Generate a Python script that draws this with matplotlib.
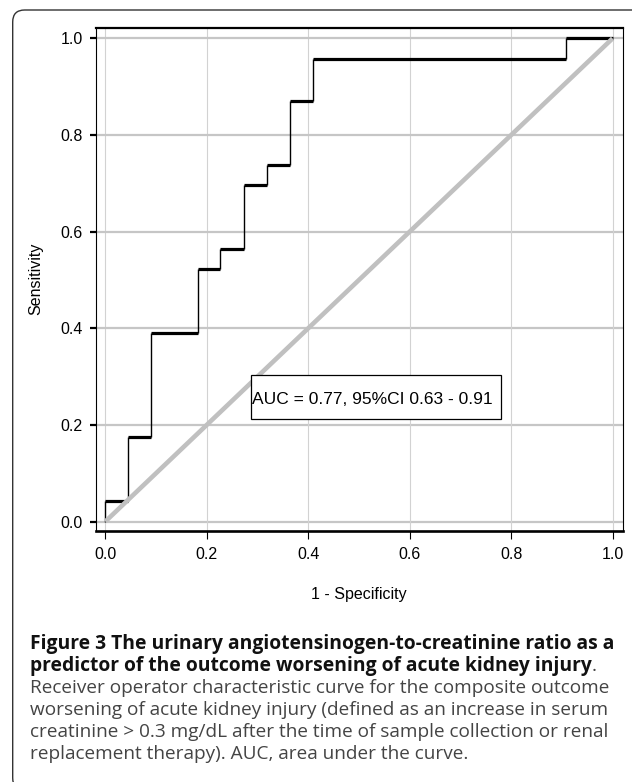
import matplotlib
matplotlib.use("Agg")
import matplotlib.pyplot as plt
from matplotlib.patches import Rectangle, FancyBboxPatch
from matplotlib.transforms import IdentityTransform

# puntos de la curva ROC (escalones)
fpr = [0, 0.045, 0.091, 0.182, 0.227, 0.273, 0.318, 0.364, 0.409, 0.909, 1.0]
tpr = [0.043, 0.174, 0.391, 0.522, 0.565, 0.696, 0.739, 0.870, 0.957, 1.0]

ticks = [0.0, 0.2, 0.4, 0.6, 0.8, 1.0]
tick_labels = ["0.0", "0.2", "0.4", "0.6", "0.8", "1.0"]

auc_text = "AUC = 0.77, 95%CI 0.63 - 0.91"

caption_bold = ["Figure 3 The urinary angiotensinogen-to-creatinine ratio as a",
                "predictor of the outcome worsening of acute kidney injury"]
caption_rest = ["Receiver operator characteristic curve for the composite outcome",
                "worsening of acute kidney injury (defined as an increase in serum",
                "creatinine > 0.3 mg/dL after the time of sample collection or renal",
                "replacement therapy). AUC, area under the curve."]

W, H = 632, 782
plt.rcParams['font.family'] = ['Liberation Sans', 'DejaVu Sans']

fig = plt.figure(figsize=(W / 100, H / 100), dpi=100)
ax = fig.add_axes([95.7 / W, 1 - 530.7 / H, 527 / W, 502.4 / H])
ax.set_xlim(-0.019, 1.02)
ax.set_ylim(-0.019, 1.021)

# rejilla
for t in ticks:
    ax.axhline(t, color='#c6c6c6', lw=1.6, zorder=1)
    ax.axvline(t, color='#d2d2d2', lw=0.8, zorder=1)

# curva: horizontales gruesas, verticales finas
prev = 0.0
for i in range(len(tpr)):
    ax.vlines(fpr[i], prev, tpr[i], color='black', lw=1.0, zorder=3)
    ax.hlines(tpr[i], fpr[i], fpr[i + 1], color='black', lw=2.3, zorder=3)
    prev = tpr[i]

# diagonal de referencia
ax.plot([0, 1], [0, 1], color='#c0c0c0', lw=3.3, zorder=4, solid_capstyle='butt')

# cuadro AUC
ax.add_patch(Rectangle((0.2866, 0.2118), 0.4929, 0.0917, facecolor='white',
                       edgecolor='black', lw=0.9, zorder=5))
ax.text(0.2897, 0.243, auc_text, fontsize=12.5, ha='left', va='baseline', zorder=6)

ax.set_xticks(ticks)
ax.set_xticklabels(tick_labels)
ax.set_yticks(ticks)
ax.set_yticklabels(tick_labels)
ax.tick_params(axis='y', length=4.3, width=1.6, pad=5, labelsize=11.5)
ax.tick_params(axis='x', length=5.8, width=0.8, pad=6, labelsize=11.5)

ax.spines['top'].set_linewidth(1.6)
ax.spines['bottom'].set_linewidth(1.9)
ax.spines['left'].set_linewidth(0.8)
ax.spines['right'].set_linewidth(0.8)

fig.text(36 / W, 1 - 279 / H, "Sensitivity", rotation=90, ha='center', va='center',
         fontsize=11.5)
fig.text(359 / W, 1 - 595 / H, "1 - Specificity", ha='center', va='center',
         fontsize=11.5)

# marco redondeado
fig.patches.append(FancyBboxPatch((12.7, -8), 640, 780, boxstyle="round,pad=0,rounding_size=12",
                                  transform=IdentityTransform(), facecolor='none',
                                  edgecolor='#333333', lw=1.0))

# pie de figura
cap_font = ['Open Sans', 'DejaVu Sans']
cap_size = 13.7
baselines = [649, 671, 693, 715, 737, 759]
x0 = 30 / W
for k, line in enumerate(caption_bold):
    t = fig.text(x0, 1 - baselines[k] / H, line, fontsize=13.9, fontweight='bold',
                 family=cap_font, color='#111111', va='baseline')
fig.canvas.draw()
bb = t.get_window_extent()
fig.text(bb.x1 / W, 1 - baselines[1] / H, ".", fontsize=cap_size, family=cap_font,
         color='#444444', va='baseline')
for k, line in enumerate(caption_rest):
    fig.text(x0, 1 - baselines[k + 2] / H, line, fontsize=cap_size, family=cap_font,
             color='#444444', va='baseline')

fig.savefig("out.png", dpi=100)
